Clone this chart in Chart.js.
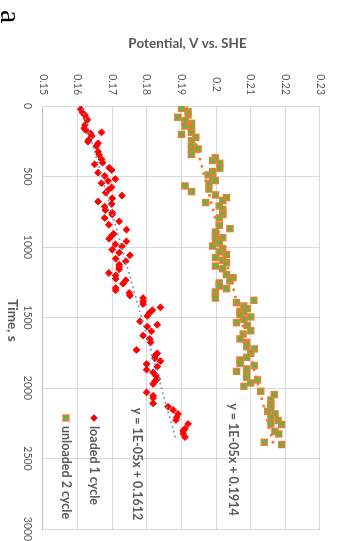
<!DOCTYPE html>
<html>
<head>
<meta charset="utf-8">
<script src="https://cdn.jsdelivr.net/npm/chart.js@4/dist/chart.umd.min.js"></script>
<style>
  html, body { margin: 0; padding: 0; width: 337px; height: 541px; overflow: hidden; background: #ffffff; }
  /* the figure is laid out landscape and turned a quarter clockwise onto the portrait page */
  #frame { position: absolute; left: 0; top: 0; width: 541px; height: 337px;
           transform-origin: 0 0; transform: translate(337px, 0) rotate(90deg); }
  canvas { display: block; }
</style>
</head>
<body>
<div id="frame"><canvas id="chart" width="541" height="337"></canvas></div>
<script>
// axis ticks
const timeTicks = [0, 500, 1000, 1500, 2000, 2500, 3000];
const potentialTicks = [0.15, 0.16, 0.17, 0.18, 0.19, 0.2, 0.21, 0.22, 0.23];

// series names
const seriesNames = ['loaded 1 cycle', 'unloaded 2 cycle'];

// loaded 1 cycle: time (s) and potential (V vs. SHE)
const loadedTime = [23, 47, 64, 87, 99, 135, 158, 170, 187, 194, 213, 241, 253, 264, 284, 324, 347, 378, 402, 414,
  438, 454, 473, 496, 518, 532, 548, 577, 596, 615, 636, 655, 678, 695, 714, 738, 757, 770, 794, 818,
  842, 877, 906, 921, 941, 960, 981, 995, 1019, 1040, 1059, 1083, 1101, 1125, 1142, 1158, 1184, 1201, 1225, 1236,
  1260, 1291, 1307, 1326, 1344, 1362, 1386, 1405, 1428, 1449, 1466, 1489, 1527, 1551, 1565, 1598, 1628, 1652, 1676, 1730,
  1754, 1771, 1790, 1810, 1830, 1849, 1870, 1889, 1913, 1936, 1952, 1972, 2031, 2055, 2071, 2109, 2133, 2156, 2184, 2208,
  2227, 2255, 2289, 2303, 2324, 2348];
const loadedPotential = [0.1609, 0.1614, 0.1621, 0.1625, 0.1628, 0.1621, 0.1619, 0.1623, 0.1669, 0.1637, 0.1641, 0.1632, 0.1630, 0.1659, 0.1654, 0.1659, 0.1662, 0.1669, 0.1672, 0.1649,
  0.1691, 0.1698, 0.1659, 0.1678, 0.1709, 0.1688, 0.1669, 0.1698, 0.1688, 0.1681, 0.1728, 0.1700, 0.1659, 0.1698, 0.1678, 0.1680, 0.1700, 0.1700, 0.1678, 0.1720,
  0.1690, 0.1741, 0.1704, 0.1698, 0.1691, 0.1741, 0.1709, 0.1728, 0.1700, 0.1720, 0.1751, 0.1710, 0.1739, 0.1720, 0.1720, 0.1720, 0.1690, 0.1710, 0.1710, 0.1739,
  0.1731, 0.1710, 0.1710, 0.1749, 0.1751, 0.1789, 0.1789, 0.1789, 0.1839, 0.1816, 0.1808, 0.1801, 0.1780, 0.1830, 0.1801, 0.1813, 0.1789, 0.1808, 0.1811, 0.1770,
  0.1830, 0.1823, 0.1823, 0.1839, 0.1799, 0.1830, 0.1799, 0.1818, 0.1826, 0.1830, 0.1823, 0.1818, 0.1799, 0.1818, 0.1818, 0.1818, 0.1861, 0.1876, 0.1890, 0.1886,
  0.1884, 0.1919, 0.1910, 0.1905, 0.1905, 0.1910];

// unloaded 2 cycle: time (s) and potential (V vs. SHE)
const unloadedTime = [16, 40, 64, 80, 104, 123, 142, 158, 187, 201, 222, 246, 277, 305, 312, 343, 367, 387, 406, 441,
  465, 489, 513, 529, 548, 567, 589, 607, 631, 650, 671, 685, 709, 733, 761, 770, 794, 846, 870, 894,
  922, 934, 952, 972, 993, 1012, 1035, 1054, 1075, 1094, 1111, 1135, 1154, 1196, 1217, 1241, 1255, 1277, 1296, 1319,
  1343, 1362, 1378, 1395, 1418, 1437, 1456, 1461, 1480, 1496, 1513, 1537, 1556, 1594, 1617, 1652, 1676, 1707, 1723, 1754,
  1782, 1801, 1825, 1841, 1865, 1882, 1900, 1924, 1943, 1964, 1988, 2023, 2047, 2085, 2113, 2137, 2165, 2184, 2208, 2231,
  2255, 2259, 2307, 2326, 2385, 2401];
const unloadedPotential = [0.1900, 0.1919, 0.1919, 0.1889, 0.1910, 0.1929, 0.1910, 0.1929, 0.1929, 0.1900, 0.1941, 0.1929, 0.1929, 0.1948, 0.1929, 0.1929, 0.1998, 0.1990, 0.2011, 0.2011,
  0.1990, 0.1977, 0.1990, 0.1998, 0.1979, 0.1910, 0.1979, 0.1929, 0.1998, 0.2030, 0.2019, 0.1970, 0.2009, 0.2019, 0.2019, 0.2019, 0.2009, 0.2009, 0.2040, 0.1998,
  0.1998, 0.2019, 0.1998, 0.2009, 0.1990, 0.2019, 0.2009, 0.2030, 0.1998, 0.2019, 0.2030, 0.1998, 0.2019, 0.2030, 0.2049, 0.2040, 0.2009, 0.2009, 0.2030, 0.1998,
  0.1998, 0.1998, 0.2109, 0.2059, 0.2080, 0.2090, 0.2069, 0.2080, 0.2069, 0.2100, 0.2080, 0.2059, 0.2090, 0.2100, 0.2078, 0.2069, 0.2088, 0.2088, 0.2110, 0.2100,
  0.2088, 0.2069, 0.2069, 0.2110, 0.2088, 0.2059, 0.2088, 0.2088, 0.2120, 0.2100, 0.2080, 0.2129, 0.2168, 0.2158, 0.2158, 0.2158, 0.2149, 0.2170, 0.2158, 0.2179,
  0.2158, 0.2189, 0.2170, 0.2181, 0.2139, 0.2189];

// linear trendlines (y = slope * x + intercept)
const trendSlope = [1.15e-5, 1.05e-5];
const trendIntercept = [0.1612, 0.1914];

const TEXT = '#595959';
const RED = '#FF0000';
const GREEN = '#70AD47';
const ORANGE = '#ED7D31';
const BLUE = '#5B9BD5';

const toPoints = (xs, ys) => xs.map((x, i) => ({ x, y: ys[i] }));
function trendPoints(xs, k) {
  const lo = Math.min(...xs), hi = Math.max(...xs);
  return [lo, hi].map(x => ({ x, y: trendSlope[k] * x + trendIntercept[k] }));
}
function excelSci(v) {
  const [m, e] = v.toExponential(0).split('e');
  const n = Number(e);
  return m + 'E' + (n < 0 ? '-' : '+') + String(Math.abs(n)).padStart(2, '0');
}
const trendText = k => 'y = ' + excelSci(trendSlope[k]) + 'x + ' + trendIntercept[k];

function diamond(ctx, x, y, r) {
  ctx.beginPath();
  ctx.moveTo(x, y - r); ctx.lineTo(x + r, y); ctx.lineTo(x, y + r); ctx.lineTo(x - r, y);
  ctx.closePath();
}

// scale boxes keep exactly the room given to them
function fixBox(size) {
  return s => {
    if (s.isHorizontal()) s.height = size; else s.width = size;
    s.paddingLeft = s.paddingRight = s.paddingTop = s.paddingBottom = 0;
  };
}

// titles, trendline equations, legend and panel letter
const decorations = {
  id: 'decorations',
  afterDatasetsDraw(chart) {
    const { ctx, chartArea: a, scales: { x, y } } = chart;
    ctx.save();
    ctx.fillStyle = TEXT;
    ctx.textBaseline = 'middle';

    // axis titles
    ctx.font = 'bold 13.5px Lato';
    ctx.textAlign = 'center';
    ctx.fillText('Time, s', (a.left + a.right) / 2 + 3, 325);
    ctx.save();
    ctx.translate(44, (a.top + a.bottom) / 2 - 6);
    ctx.rotate(-Math.PI / 2);
    ctx.fillText('Potential, V vs. SHE', 0, 0);
    ctx.restore();

    // trendline equations
    ctx.font = 'bold 12.5px Lato';
    ctx.fillText(trendText(0), x.getPixelForValue(2539), y.getPixelForValue(0.1771));
    ctx.fillText(trendText(1), x.getPixelForValue(2507), y.getPixelForValue(0.2049));

    // legend
    const lx = a.left + 312;
    const ly = [a.bottom - 51, a.bottom - 23];
    ctx.fillStyle = RED;
    diamond(ctx, lx, ly[0], 3.8);
    ctx.fill();
    ctx.fillStyle = GREEN;
    ctx.strokeStyle = ORANGE;
    ctx.lineWidth = 1.3;
    ctx.fillRect(lx - 3, ly[1] - 3, 6, 6);
    ctx.strokeRect(lx - 3, ly[1] - 3, 6, 6);
    ctx.fillStyle = TEXT;
    ctx.textAlign = 'left';
    ctx.font = 'bold 12.5px Lato';
    ctx.fillText(seriesNames[0], lx + 8, ly[0]);
    ctx.fillText(seriesNames[1], lx + 8, ly[1]);

    // panel letter
    ctx.fillStyle = '#000000';
    ctx.font = '30px "Liberation Serif"';
    ctx.textBaseline = 'alphabetic';
    ctx.fillText('a', 10, 336);
    ctx.restore();
  }
};

new Chart(document.getElementById('chart'), {
  type: 'scatter',
  data: {
    datasets: [
      {
        label: 'trend ' + seriesNames[0],
        data: trendPoints(loadedTime, 0),
        showLine: true, pointRadius: 0, borderColor: BLUE, borderWidth: 2,
        borderDash: [0, 5], borderCapStyle: 'round', order: 0
      },
      {
        label: 'trend ' + seriesNames[1],
        data: trendPoints(unloadedTime, 1),
        showLine: true, pointRadius: 0, borderColor: ORANGE, borderWidth: 3,
        borderDash: [0, 7.5], borderCapStyle: 'round', order: 0
      },
      {
        label: seriesNames[0],
        data: toPoints(loadedTime, loadedPotential),
        pointStyle: 'rectRot', pointRadius: 3.4, borderWidth: 1,
        backgroundColor: RED, borderColor: RED, order: 2
      },
      {
        label: seriesNames[1],
        data: toPoints(unloadedTime, unloadedPotential),
        pointStyle: 'rect', pointRadius: 4.3, borderWidth: 1.3,
        backgroundColor: GREEN, borderColor: ORANGE, order: 1
      }
    ]
  },
  options: {
    responsive: false,
    animation: false,
    devicePixelRatio: 1,
    layout: { padding: { top: 17, right: 12, bottom: 0, left: 0 } },
    plugins: { legend: { display: false }, tooltip: { enabled: false } },
    elements: { point: { hoverRadius: 0 } },
    scales: {
      x: {
        type: 'linear', position: 'bottom', min: 0, max: 3000,
        afterBuildTicks: s => { s.ticks = timeTicks.map(v => ({ value: v })); },
        afterFit: fixBox(43),
        grid: { color: '#D9D9D9', drawTicks: false },
        border: { color: '#BFBFBF' },
        ticks: { color: TEXT, font: { family: 'Lato', size: 10.5 }, padding: 9, maxRotation: 0,
                 callback: v => String(v) }
      },
      y: {
        type: 'linear', position: 'left', min: 0.15, max: 0.23,
        afterBuildTicks: s => { s.ticks = potentialTicks.map(v => ({ value: v })); },
        afterFit: fixBox(106),
        grid: { color: '#D9D9D9', drawTicks: false },
        border: { color: '#D9D9D9' },
        ticks: { color: TEXT, font: { family: 'Lato', size: 10.5 }, padding: 11, crossAlign: 'center',
                 callback: v => String(parseFloat(Number(v).toFixed(2))) }
      }
    }
  },
  plugins: [decorations]
});
</script>
</body>
</html>
